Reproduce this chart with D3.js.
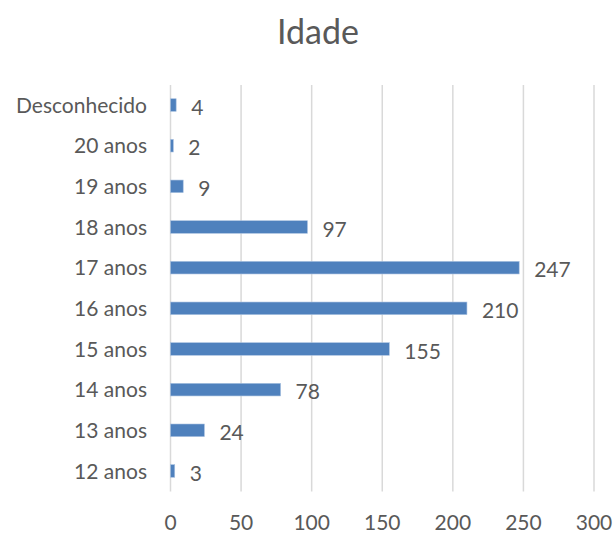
<!DOCTYPE html>
<html><head><meta charset="utf-8">
<script src="https://cdn.jsdelivr.net/npm/d3@7"></script>
<style>body{margin:0;background:#fff;} text{font-family:Lato,"Open Sans",sans-serif;fill:#595959;}</style>
</head><body>
<svg id="c" width="615" height="533"></svg>
<script>
const categories = ["Desconhecido","20 anos","19 anos","18 anos","17 anos","16 anos","15 anos","14 anos","13 anos","12 anos"];
const values = [4,2,9,97,247,210,155,78,24,3];
const xTicks = [0,50,100,150,200,250,300];
const title = "Idade";

const svg = d3.select("#c");
const x = d3.scaleLinear().domain([0,300]).range([170.5,594]);
const y = d3.scaleBand().domain(categories).range([84.7,491.3]).paddingInner(0.69).paddingOuter(0.345);

svg.append("text").attr("x",318).attr("y",44).attr("text-anchor","middle")
  .style("font-size","34px").text(title);

svg.append("g").selectAll("line").data(xTicks).join("line")
  .attr("x1",d=>x(d)).attr("x2",d=>x(d)).attr("y1",85).attr("y2",491.5)
  .attr("stroke","#d9d9d9").attr("stroke-width",1.5);

svg.append("g").selectAll("text").data(xTicks).join("text")
  .attr("x",d=>x(d)).attr("y",530).attr("text-anchor","middle")
  .style("font-size","21px").text(d=>d);

svg.append("g").selectAll("text").data(categories).join("text")
  .attr("x",147).attr("y",d=>y(d)+y.bandwidth()/2).attr("dy","0.36em")
  .attr("text-anchor","end").style("font-size","21px").text(d=>d);

svg.append("g").selectAll("rect").data(values).join("rect")
  .attr("x",x(0)).attr("y",(d,i)=>y(categories[i]))
  .attr("width",d=>x(d)-x(0)).attr("height",y.bandwidth())
  .attr("fill","#4f81bd").attr("stroke","#a9c1e0").attr("stroke-width",0.6);

svg.append("g").selectAll("text").data(values).join("text")
  .attr("x",d=>x(d)+15).attr("y",(d,i)=>y(categories[i])+y.bandwidth()/2+2).attr("dy","0.36em")
  .style("font-size","21px").text(d=>d);
</script>
</body></html>
